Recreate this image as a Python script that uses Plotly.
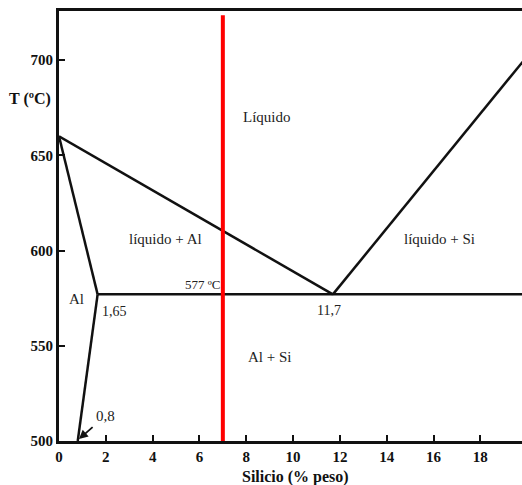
import plotly.graph_objects as go

# Phase boundaries (Silicio % peso, T ºC)
liquidus_al_x = [0, 11.7]
liquidus_al_y = [660, 577]
liquidus_si_x = [11.7, 20]
liquidus_si_y = [577, 702]
solidus_x = [0, 1.65]
solidus_y = [660, 577]
solvus_x = [1.65, 0.8]
solvus_y = [577, 500]
eutectic_x = [1.65, 20]
eutectic_y = [577, 577]
alloy_x = [7, 7]
alloy_y = [500, 723.6]

x_ticks = [0, 2, 4, 6, 8, 10, 12, 14, 16, 18]
y_ticks = [500, 550, 600, 650, 700]

labels = [
    ("Líquido", 8.9, 670, 15),
    ("líquido + Al", 4.56, 606, 15),
    ("líquido + Si", 16.27, 606, 15),
    ("Al", 0.73, 574.5, 15),
    ("1,65", 2.36, 568, 14),
    ("577 ºC", 6.12, 582, 13),
    ("11,7", 11.55, 568.5, 14),
    ("Al + Si", 9.0, 544, 15),
]

serif = "Liberation Serif"

fig = go.Figure()
for xs, ys in [(liquidus_al_x, liquidus_al_y), (liquidus_si_x, liquidus_si_y),
               (solidus_x, solidus_y), (solvus_x, solvus_y), (eutectic_x, eutectic_y)]:
    fig.add_trace(go.Scatter(x=xs, y=ys, mode="lines",
                             line=dict(color="#111111", width=2.5),
                             showlegend=False, hoverinfo="skip"))

fig.add_trace(go.Scatter(x=alloy_x, y=alloy_y, mode="lines",
                         line=dict(color="#ff0000", width=4),
                         showlegend=False, hoverinfo="skip"))

for text, x, y, s in labels:
    fig.add_annotation(x=x, y=y, text=text, showarrow=False,
                       font=dict(family=serif, size=s, color="#222222"))

# 0,8 with arrow
fig.add_annotation(x=0.85, y=501, ax=1.5, ay=508, axref="x", ayref="y",
                   text="", showarrow=True, arrowhead=2, arrowsize=1,
                   arrowwidth=1.8, arrowcolor="#111111")
fig.add_annotation(x=2.0, y=513, text="0,8", showarrow=False,
                   font=dict(family=serif, size=15, color="#222222"))

L, T, B = 59, 11, 44
W, H = 522, 485
pw, ph = W - L, H - T - B

# axis titles (positions from pixel layout)
fig.add_annotation(x=(30 - L) / pw, y=(H - B - 99) / ph, xref="paper", yref="paper",
                   xanchor="center", yanchor="middle",
                   text="<b>T (ºC)</b>", showarrow=False,
                   font=dict(family=serif, size=16, color="#111111"))
fig.add_annotation(x=(295 - L) / pw, y=(H - B - 477) / ph, xref="paper", yref="paper",
                   xanchor="center", yanchor="middle",
                   text="<b>Silicio (% peso)</b>", showarrow=False,
                   font=dict(family=serif, size=16, color="#111111"))

fig.update_layout(
    width=W, height=H,
    margin=dict(l=L, r=0, t=T, b=B, autoexpand=False),
    paper_bgcolor="white", plot_bgcolor="white",
    xaxis=dict(range=[0, 19.78], tickvals=x_ticks, ticktext=[str(v) for v in x_ticks],
               showgrid=False, zeroline=False, showline=True, linecolor="#111111",
               linewidth=3, mirror=True, ticks="inside", ticklen=6, tickwidth=2,
               tickcolor="#111111",
               tickfont=dict(family=serif, size=15, color="#111111", weight="bold")),
    yaxis=dict(range=[500, 725.8], tickvals=y_ticks, ticktext=[str(v) for v in y_ticks],
               showgrid=False, zeroline=False, showline=True, linecolor="#111111",
               linewidth=3, mirror=False, ticks="inside", ticklen=6, tickwidth=2,
               tickcolor="#111111",
               tickfont=dict(family=serif, size=15, color="#111111", weight="bold")),
)

fig.write_html("out.html", config={"displayModeBar": False},
               post_script="document.body.style.margin='0';document.body.style.overflow='hidden';")
